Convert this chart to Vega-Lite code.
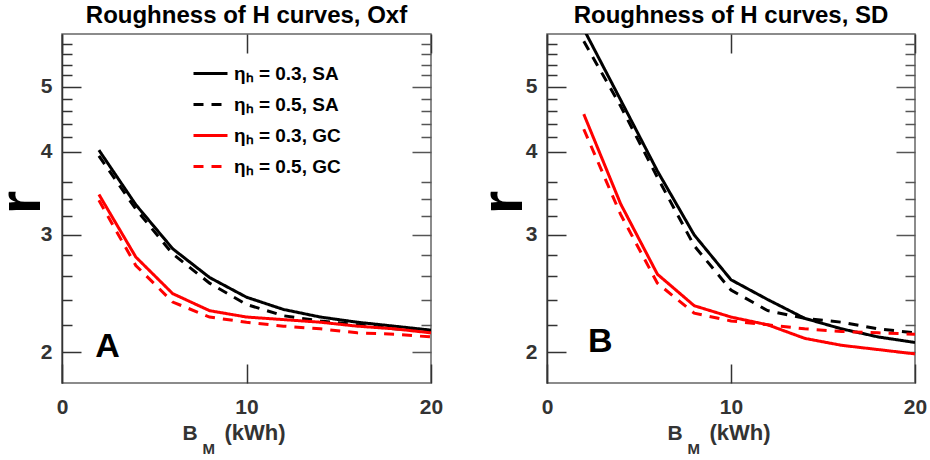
{
  "$schema": "https://vega.github.io/schema/vega-lite/v6.json",
  "background": "white",
  "padding": {"left": -10, "top": 3, "right": 5, "bottom": 0},
  "config": {
    "font": "Liberation Sans",
    "view": {"stroke": "#666", "strokeWidth": 1.5},
    "axis": {"grid": false, "domain": false, "tickWidth": 1.5, "tickColor": "#333", "minExtent": 0, "labelFont": "Liberation Sans", "titleFont": "Liberation Sans"},
    "legend": {"labelFont": "Liberation Sans"}
  },
  "datasets": {
    "oxf": [
      {"B": 2, "r": 4.02, "s": "0.3, SA"}, {"B": 4, "r": 3.33, "s": "0.3, SA"}, {"B": 6, "r": 2.86, "s": "0.3, SA"}, {"B": 8, "r": 2.59, "s": "0.3, SA"}, {"B": 10, "r": 2.42, "s": "0.3, SA"},
      {"B": 12, "r": 2.32, "s": "0.3, SA"}, {"B": 14, "r": 2.26, "s": "0.3, SA"}, {"B": 16, "r": 2.22, "s": "0.3, SA"}, {"B": 18, "r": 2.19, "s": "0.3, SA"}, {"B": 20, "r": 2.16, "s": "0.3, SA"},
      {"B": 2, "r": 3.94, "s": "0.5, SA"}, {"B": 4, "r": 3.28, "s": "0.5, SA"}, {"B": 6, "r": 2.81, "s": "0.5, SA"}, {"B": 8, "r": 2.54, "s": "0.5, SA"}, {"B": 10, "r": 2.36, "s": "0.5, SA"},
      {"B": 12, "r": 2.27, "s": "0.5, SA"}, {"B": 14, "r": 2.23, "s": "0.5, SA"}, {"B": 16, "r": 2.20, "s": "0.5, SA"}, {"B": 18, "r": 2.17, "s": "0.5, SA"}, {"B": 20, "r": 2.15, "s": "0.5, SA"},
      {"B": 2, "r": 3.45, "s": "0.3, GC"}, {"B": 4, "r": 2.78, "s": "0.3, GC"}, {"B": 6, "r": 2.45, "s": "0.3, GC"}, {"B": 8, "r": 2.31, "s": "0.3, GC"}, {"B": 10, "r": 2.26, "s": "0.3, GC"},
      {"B": 12, "r": 2.24, "s": "0.3, GC"}, {"B": 14, "r": 2.22, "s": "0.3, GC"}, {"B": 16, "r": 2.19, "s": "0.3, GC"}, {"B": 18, "r": 2.17, "s": "0.3, GC"}, {"B": 20, "r": 2.14, "s": "0.3, GC"},
      {"B": 2, "r": 3.38, "s": "0.5, GC"}, {"B": 4, "r": 2.70, "s": "0.5, GC"}, {"B": 6, "r": 2.38, "s": "0.5, GC"}, {"B": 8, "r": 2.26, "s": "0.5, GC"}, {"B": 10, "r": 2.22, "s": "0.5, GC"},
      {"B": 12, "r": 2.19, "s": "0.5, GC"}, {"B": 14, "r": 2.17, "s": "0.5, GC"}, {"B": 16, "r": 2.14, "s": "0.5, GC"}, {"B": 18, "r": 2.13, "s": "0.5, GC"}, {"B": 20, "r": 2.11, "s": "0.5, GC"}
    ],
    "sd": [
      {"B": 2, "r": 6.1, "s": "0.3, SA"}, {"B": 4, "r": 4.78, "s": "0.3, SA"}, {"B": 6, "r": 3.74, "s": "0.3, SA"}, {"B": 8, "r": 3.0, "s": "0.3, SA"}, {"B": 10, "r": 2.57, "s": "0.3, SA"},
      {"B": 12, "r": 2.40, "s": "0.3, SA"}, {"B": 14, "r": 2.25, "s": "0.3, SA"}, {"B": 16, "r": 2.17, "s": "0.3, SA"}, {"B": 18, "r": 2.11, "s": "0.3, SA"}, {"B": 20, "r": 2.07, "s": "0.3, SA"},
      {"B": 2, "r": 5.85, "s": "0.5, SA"}, {"B": 4, "r": 4.68, "s": "0.5, SA"}, {"B": 6, "r": 3.66, "s": "0.5, SA"}, {"B": 8, "r": 2.89, "s": "0.5, SA"}, {"B": 10, "r": 2.48, "s": "0.5, SA"},
      {"B": 12, "r": 2.31, "s": "0.5, SA"}, {"B": 14, "r": 2.25, "s": "0.5, SA"}, {"B": 16, "r": 2.22, "s": "0.5, SA"}, {"B": 18, "r": 2.17, "s": "0.5, SA"}, {"B": 20, "r": 2.14, "s": "0.5, SA"},
      {"B": 2, "r": 4.55, "s": "0.3, GC"}, {"B": 4, "r": 3.34, "s": "0.3, GC"}, {"B": 6, "r": 2.62, "s": "0.3, GC"}, {"B": 8, "r": 2.35, "s": "0.3, GC"}, {"B": 10, "r": 2.26, "s": "0.3, GC"},
      {"B": 12, "r": 2.20, "s": "0.3, GC"}, {"B": 14, "r": 2.10, "s": "0.3, GC"}, {"B": 16, "r": 2.05, "s": "0.3, GC"}, {"B": 18, "r": 2.02, "s": "0.3, GC"}, {"B": 20, "r": 1.99, "s": "0.3, GC"},
      {"B": 2, "r": 4.32, "s": "0.5, GC"}, {"B": 4, "r": 3.22, "s": "0.5, GC"}, {"B": 6, "r": 2.54, "s": "0.5, GC"}, {"B": 8, "r": 2.29, "s": "0.5, GC"}, {"B": 10, "r": 2.23, "s": "0.5, GC"},
      {"B": 12, "r": 2.20, "s": "0.5, GC"}, {"B": 14, "r": 2.17, "s": "0.5, GC"}, {"B": 16, "r": 2.15, "s": "0.5, GC"}, {"B": 18, "r": 2.14, "s": "0.5, GC"}, {"B": 20, "r": 2.13, "s": "0.5, GC"}
    ]
  },
  "spacing": 116,
  "bounds": "flush",
  "resolve": {"scale": {"color": "independent", "strokeDash": "independent"}},
  "hconcat": [
    {
      "width": 369,
      "height": 349,
      "title": {"text": "Roughness of H curves, Oxf", "fontSize": 24, "fontWeight": "bold", "color": "black", "anchor": "middle", "baseline": "alphabetic", "offset": -14, "frame": "group"},
      "resolve": {"axis": {"x": "independent", "y": "independent"}},
      "layer": [
        {
          "data": {"name": "oxf"},
          "mark": {"type": "line", "strokeWidth": 3, "clip": true},
          "encoding": {
            "x": {"field": "B", "type": "quantitative", "scale": {"domain": [0, 20], "nice": false},
              "axis": {"orient": "bottom", "values": [0, 10, 20], "tickSize": -19, "labelPadding": 32, "labelFontSize": 21, "labelFontWeight": "bold", "labelColor": "#333", "labelFlush": false,
                "title": "B", "titleFontSize": 21, "titleFontWeight": "bold", "titleColor": "#333", "titleX": 120, "titleY": 56, "titleAlign": "left", "titleBaseline": "alphabetic"}},
            "y": {"field": "r", "type": "quantitative", "scale": {"type": "log", "domain": [1.8, 6], "nice": false},
              "axis": {"orient": "left", "values": [2, 3, 4, 5], "format": "~g", "tickSize": -19, "labelPadding": 29, "labelFontSize": 21, "labelFontWeight": "bold", "labelColor": "#333",
                "domain": true, "domainColor": "#333", "domainWidth": 1.5,
                "title": "r", "titleFontSize": 60, "titleFontWeight": "bold", "titleColor": "black", "titleX": -23, "titleY": 168, "titleAngle": 270, "titleAlign": "center", "titleBaseline": "alphabetic"}},
            "color": {"field": "s", "type": "nominal",
              "scale": {"domain": ["0.3, SA", "0.5, SA", "0.3, GC", "0.5, GC"], "range": ["#000000", "#000000", "#ff0000", "#ff0000"]},
              "legend": {"orient": "none", "legendX": 130, "legendY": 21, "title": null, "padding": 0, "symbolType": "stroke", "symbolSize": 1156, "symbolStrokeWidth": 3, "labelOffset": 5, "rowPadding": 2, "labelFontSize": 19, "labelFontWeight": "bold", "labelColor": "black", "labelExpr": "'ηₕ = ' + datum.label"}},
            "strokeDash": {"field": "s", "type": "nominal",
              "scale": {"domain": ["0.3, SA", "0.5, SA", "0.3, GC", "0.5, GC"], "range": [[1, 0], [10, 8], [1, 0], [10, 8]]},
              "legend": {"orient": "none", "legendX": 130, "legendY": 21, "title": null, "padding": 0, "symbolType": "stroke", "symbolSize": 1156, "symbolStrokeWidth": 3, "labelOffset": 5, "rowPadding": 2, "labelFontSize": 19, "labelFontWeight": "bold", "labelColor": "black", "labelExpr": "'ηₕ = ' + datum.label"}}
          }
        },
        {
          "data": {"name": "oxf"},
          "mark": {"type": "point", "opacity": 0, "clip": true},
          "encoding": {
            "x": {"field": "B", "type": "quantitative", "scale": {"domain": [0, 20], "nice": false},
              "axis": {"orient": "top", "values": [0, 10, 20], "tickSize": -19, "labels": false, "title": null}},
            "y": {"field": "r", "type": "quantitative", "scale": {"type": "log", "domain": [1.8, 6], "nice": false},
              "axis": {"orient": "right", "values": [2, 3, 4, 5], "tickSize": -19, "tickColor": "#555", "labels": false, "title": null}}
          }
        },
        {
          "data": {"name": "oxf"},
          "mark": {"type": "point", "opacity": 0, "clip": true},
          "encoding": {
            "x": {"field": "B", "type": "quantitative", "scale": {"domain": [0, 20], "nice": false},
              "axis": {"orient": "bottom", "ticks": false, "labels": false, "title": "M", "titleFontSize": 15, "titleFontWeight": "bold", "titleColor": "#333", "titleX": 140, "titleY": 70, "titleAlign": "left", "titleBaseline": "alphabetic"}},
            "y": {"field": "r", "type": "quantitative", "scale": {"type": "log", "domain": [1.8, 6], "nice": false},
              "axis": {"orient": "left", "values": [2.2, 2.4, 2.6, 2.8, 3.2, 3.4, 3.6, 4.2, 4.4, 4.6, 4.8, 5.2, 5.4, 5.6, 5.8], "tickSize": -10, "labels": false, "title": null}}
          }
        },
        {
          "data": {"name": "oxf"},
          "mark": {"type": "point", "opacity": 0, "clip": true},
          "encoding": {
            "x": {"field": "B", "type": "quantitative", "scale": {"domain": [0, 20], "nice": false},
              "axis": {"orient": "bottom", "ticks": false, "labels": false, "title": "(kWh)", "titleFontSize": 22, "titleFontWeight": "bold", "titleColor": "#333", "titleX": 162, "titleY": 56, "titleAlign": "left", "titleBaseline": "alphabetic"}},
            "y": {"field": "r", "type": "quantitative", "scale": {"type": "log", "domain": [1.8, 6], "nice": false},
              "axis": {"orient": "right", "values": [2.2, 2.4, 2.6, 2.8, 3.2, 3.4, 3.6, 4.2, 4.4, 4.6, 4.8, 5.2, 5.4, 5.6, 5.8], "tickSize": -10, "tickColor": "#555", "labels": false, "title": null}}
          }
        },
        {
          "data": {"values": [{}]},
          "mark": {"type": "text", "fontSize": 34, "fontWeight": "bold", "color": "black", "align": "center", "baseline": "alphabetic"},
          "encoding": {
            "x": {"datum": 2.47, "type": "quantitative", "axis": null},
            "y": {"datum": 1.97, "type": "quantitative", "axis": null},
            "text": {"value": "A"}
          }
        }
      ]
    },
    {
      "width": 368,
      "height": 349,
      "title": {"text": "Roughness of H curves, SD", "fontSize": 24, "fontWeight": "bold", "color": "black", "anchor": "middle", "baseline": "alphabetic", "offset": -14, "frame": "group"},
      "resolve": {"axis": {"x": "independent", "y": "independent"}},
      "layer": [
        {
          "data": {"name": "sd"},
          "mark": {"type": "line", "strokeWidth": 3, "clip": true},
          "encoding": {
            "x": {"field": "B", "type": "quantitative", "scale": {"domain": [0, 20], "nice": false},
              "axis": {"orient": "bottom", "values": [0, 10, 20], "tickSize": -19, "labelPadding": 32, "labelFontSize": 21, "labelFontWeight": "bold", "labelColor": "#333", "labelFlush": false,
                "title": "B", "titleFontSize": 21, "titleFontWeight": "bold", "titleColor": "#333", "titleX": 120, "titleY": 56, "titleAlign": "left", "titleBaseline": "alphabetic"}},
            "y": {"field": "r", "type": "quantitative", "scale": {"type": "log", "domain": [1.8, 6], "nice": false},
              "axis": {"orient": "left", "values": [2, 3, 4, 5], "format": "~g", "tickSize": -19, "labelPadding": 29, "labelFontSize": 21, "labelFontWeight": "bold", "labelColor": "#333",
                "domain": true, "domainColor": "#333", "domainWidth": 1.5,
                "title": "r", "titleFontSize": 60, "titleFontWeight": "bold", "titleColor": "black", "titleX": -26, "titleY": 168, "titleAngle": 270, "titleAlign": "center", "titleBaseline": "alphabetic"}},
            "color": {"field": "s", "type": "nominal",
              "scale": {"domain": ["0.3, SA", "0.5, SA", "0.3, GC", "0.5, GC"], "range": ["#000000", "#000000", "#ff0000", "#ff0000"]},
              "legend": null},
            "strokeDash": {"field": "s", "type": "nominal",
              "scale": {"domain": ["0.3, SA", "0.5, SA", "0.3, GC", "0.5, GC"], "range": [[1, 0], [10, 8], [1, 0], [10, 8]]},
              "legend": null}
          }
        },
        {
          "data": {"name": "sd"},
          "mark": {"type": "point", "opacity": 0, "clip": true},
          "encoding": {
            "x": {"field": "B", "type": "quantitative", "scale": {"domain": [0, 20], "nice": false},
              "axis": {"orient": "top", "values": [0, 10, 20], "tickSize": -19, "labels": false, "title": null}},
            "y": {"field": "r", "type": "quantitative", "scale": {"type": "log", "domain": [1.8, 6], "nice": false},
              "axis": {"orient": "right", "values": [2, 3, 4, 5], "tickSize": -19, "tickColor": "#555", "labels": false, "title": null}}
          }
        },
        {
          "data": {"name": "sd"},
          "mark": {"type": "point", "opacity": 0, "clip": true},
          "encoding": {
            "x": {"field": "B", "type": "quantitative", "scale": {"domain": [0, 20], "nice": false},
              "axis": {"orient": "bottom", "ticks": false, "labels": false, "title": "M", "titleFontSize": 15, "titleFontWeight": "bold", "titleColor": "#333", "titleX": 140, "titleY": 70, "titleAlign": "left", "titleBaseline": "alphabetic"}},
            "y": {"field": "r", "type": "quantitative", "scale": {"type": "log", "domain": [1.8, 6], "nice": false},
              "axis": {"orient": "left", "values": [2.2, 2.4, 2.6, 2.8, 3.2, 3.4, 3.6, 4.2, 4.4, 4.6, 4.8, 5.2, 5.4, 5.6, 5.8], "tickSize": -10, "labels": false, "title": null}}
          }
        },
        {
          "data": {"name": "sd"},
          "mark": {"type": "point", "opacity": 0, "clip": true},
          "encoding": {
            "x": {"field": "B", "type": "quantitative", "scale": {"domain": [0, 20], "nice": false},
              "axis": {"orient": "bottom", "ticks": false, "labels": false, "title": "(kWh)", "titleFontSize": 22, "titleFontWeight": "bold", "titleColor": "#333", "titleX": 162, "titleY": 56, "titleAlign": "left", "titleBaseline": "alphabetic"}},
            "y": {"field": "r", "type": "quantitative", "scale": {"type": "log", "domain": [1.8, 6], "nice": false},
              "axis": {"orient": "right", "values": [2.2, 2.4, 2.6, 2.8, 3.2, 3.4, 3.6, 4.2, 4.4, 4.6, 4.8, 5.2, 5.4, 5.6, 5.8], "tickSize": -10, "tickColor": "#555", "labels": false, "title": null}}
          }
        },
        {
          "data": {"values": [{}]},
          "mark": {"type": "text", "fontSize": 34, "fontWeight": "bold", "color": "black", "align": "center", "baseline": "alphabetic"},
          "encoding": {
            "x": {"datum": 2.9, "type": "quantitative", "axis": null},
            "y": {"datum": 2.0, "type": "quantitative", "axis": null},
            "text": {"value": "B"}
          }
        }
      ]
    }
  ]
}
